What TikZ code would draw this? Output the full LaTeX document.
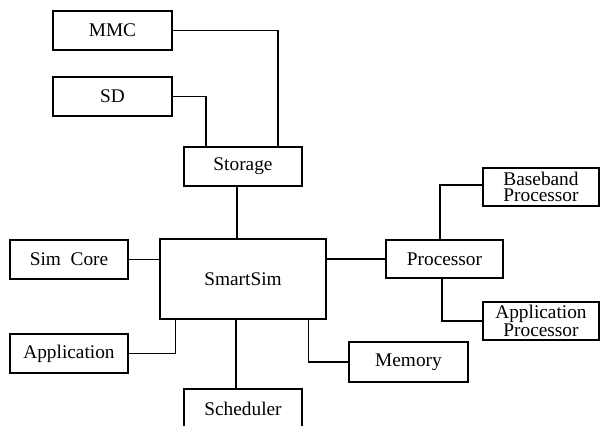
\documentclass[tikz,border=0pt]{standalone}
\usepackage{fontspec}
\setmainfont{Liberation Serif}
\newfontfamily\diagfont{Liberation Serif}
\begin{document}
\begin{tikzpicture}[x=0.02cm,y=-0.02cm,
  box/.style={draw,line width=1.3pt,inner sep=0pt,font=\diagfont\fontsize{11}{13}\selectfont},
  link/.style={line width=0.6pt}]
\useasboundingbox (0,0) rectangle (600,426);
\clip (0,0) rectangle (600,426);

% storage branch
\node[box,minimum width=2.38cm,minimum height=0.78cm] (MMC) at (112.5,30.5) {MMC};
\node[box,minimum width=2.38cm,minimum height=0.78cm] (SD) at (112.5,96.5) {SD};
\node[box,minimum width=2.36cm,minimum height=0.78cm] (Storage) at (243,166.5) {Storage};

% central block
\node[box,minimum width=3.32cm,minimum height=1.6cm] (SmartSim) at (243,279) {SmartSim};

% left side
\node[box,minimum width=2.36cm,minimum height=0.78cm] (SimCore) at (69,259.5) {Sim\ \ Core};
\node[box,minimum width=2.36cm,minimum height=0.78cm] (Application) at (69,353.5) {Application};

% bottom
\node[box,minimum width=2.36cm,minimum height=0.78cm] (Scheduler) at (243,408.5) {Scheduler};
\node[box,minimum width=2.38cm,minimum height=0.8cm] (Memory) at (408.5,362) {Memory};

% processor branch
\node[box,minimum width=2.34cm,minimum height=0.76cm] (Processor) at (444.5,259) {Processor};
\node[box,minimum width=2.32cm,minimum height=0.76cm,align=center,
      font=\diagfont\fontsize{11}{9.2}\selectfont] (Baseband) at (541,187) {Baseband\\Processor};
\node[box,minimum width=2.32cm,minimum height=0.76cm,align=center,
      font=\diagfont\fontsize{11}{9}\selectfont] (AppProc) at (541,321) {Application\\Processor};

% connectors
\draw[link] (MMC.east) -| ([xshift=0.7cm]Storage.north);
\draw[link] (SD.east) -| ([xshift=-0.74cm]Storage.north);
\draw[link] ([xshift=-0.12cm]Storage.south) -- ([xshift=-0.12cm]SmartSim.north);
\draw[link] (SimCore.east) -- (SimCore.east -| SmartSim.west);
\draw[link] (Application.east) -| ([xshift=0.34cm]SmartSim.south west);
\draw[link] ([xshift=-0.14cm]SmartSim.south) -- ([xshift=-0.14cm]Scheduler.north);
\draw[link] ([xshift=-0.38cm]SmartSim.south east) |- (Memory.west);
\draw[link] (Processor.west) -- (Processor.west -| SmartSim.east);
\draw[link] ([xshift=-0.09cm]Processor.north) |- ([yshift=0.04cm]Baseband.west);
\draw[link] ([xshift=-0.05cm]Processor.south) |- (AppProc.west);
\end{tikzpicture}
\end{document}
